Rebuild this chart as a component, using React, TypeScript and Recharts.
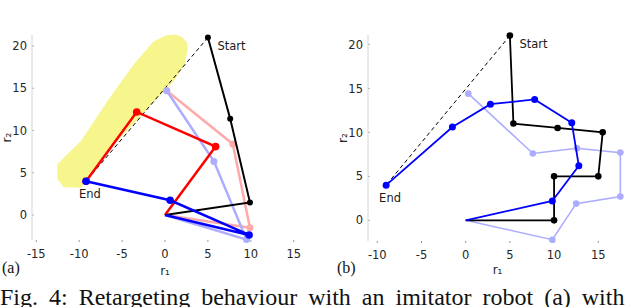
import React from "react";
import { ScatterChart, Scatter, XAxis, YAxis } from "recharts";

type P = { r1: number; r2: number };

// panel (a)
const xTicksA = [-15, -10, -5, 0, 5, 10, 15];
const yTicks = [0, 5, 10, 15, 20];
const blackA: P[] = [{ r1: 0, r2: 0 }, { r1: 9.9, r2: 1.5 }, { r1: 7.6, r2: 11.4 }, { r1: 5, r2: 21 }];
const pinkA: P[] = [{ r1: 0, r2: 0 }, { r1: 9.9, r2: -1.5 }, { r1: 7.9, r2: 8.4 }, { r1: 0.2, r2: 14.7 }];
const lightBlueA: P[] = [{ r1: 0, r2: 0 }, { r1: 9.5, r2: -2.9 }, { r1: 5.7, r2: 6.35 }, { r1: 0.2, r2: 14.7 }];
const redA: P[] = [{ r1: 0, r2: 0 }, { r1: 5.9, r2: 8.1 }, { r1: -3.3, r2: 12.2 }, { r1: -9.2, r2: 4 }];
const blueA: P[] = [{ r1: 0, r2: 0 }, { r1: 9.8, r2: -2.35 }, { r1: 0.6, r2: 1.75 }, { r1: -9.2, r2: 4 }];
const dashA: P[] = [{ r1: 5, r2: 21 }, { r1: -9.2, r2: 4 }];
const regionA: P[] = [
  { r1: 0.2, r2: 21.2 }, { r1: 1.2, r2: 21.3 }, { r1: 2.0, r2: 21.0 }, { r1: 2.5, r2: 20.4 },
  { r1: 2.6, r2: 19.6 }, { r1: 2.2, r2: 17.8 }, { r1: 1.0, r2: 15.9 }, { r1: -3.0, r2: 11.6 },
  { r1: -6.3, r2: 8.0 }, { r1: -9.0, r2: 4.3 }, { r1: -9.8, r2: 3.3 }, { r1: -11.8, r2: 3.35 },
  { r1: -12.5, r2: 4.3 }, { r1: -12.5, r2: 6.0 }, { r1: -9.7, r2: 8.8 }, { r1: -6.7, r2: 13.4 },
  { r1: -3.6, r2: 17.8 }, { r1: -1.3, r2: 20.5 },
];
const labelsA = [{ r1: 5, r2: 21, text: "Start" }, { r1: -9.2, r2: 4, text: "End" }];

// panel (b)
const xTicksB = [-10, -5, 0, 5, 10, 15];
const blackB: P[] = [
  { r1: 0, r2: 0 }, { r1: 10, r2: 0 }, { r1: 10, r2: 5 }, { r1: 15, r2: 5 },
  { r1: 15.5, r2: 10 }, { r1: 10.4, r2: 10.5 }, { r1: 5.4, r2: 11 }, { r1: 5, r2: 21 },
];
const blueB: P[] = [
  { r1: 0, r2: 0 }, { r1: 9.8, r2: 2.2 }, { r1: 12.8, r2: 6.2 }, { r1: 12, r2: 11.1 },
  { r1: 7.8, r2: 13.75 }, { r1: 2.8, r2: 13.2 }, { r1: -1.5, r2: 10.6 }, { r1: -9, r2: 4 },
];
const lightBlueB: P[] = [
  { r1: 0, r2: 0 }, { r1: 9.8, r2: -2.2 }, { r1: 12.5, r2: 1.9 }, { r1: 17.5, r2: 2.7 },
  { r1: 17.5, r2: 7.7 }, { r1: 12.6, r2: 8.2 }, { r1: 7.6, r2: 7.6 }, { r1: 0.3, r2: 14.4 },
];
const dashB: P[] = [{ r1: 5, r2: 21 }, { r1: -9, r2: 4 }];
const labelsB = [{ r1: 5, r2: 21, text: "Start" }, { r1: -9, r2: 4, text: "End" }];

const FONT = "'DejaVu Sans', Verdana, sans-serif";
const SERIF = "'Liberation Serif', 'Times New Roman', serif";
const TICK = "#262626";

const dot = (color: string, r: number) => (p: any) =>
  p.payload.r1 === 0 && p.payload.r2 === 0 ? <g /> : <circle cx={p.cx} cy={p.cy} r={r} fill={color} />;

const none = () => <g />;

const label = (p: any) => {
  const start = p.payload.text === "Start";
  return (
    <text x={p.cx + (start ? 9.5 : -7)} y={p.cy + (start ? 12.5 : 17)} fontSize={11.5}
      fontFamily={FONT} fill="#1a1a1a">{p.payload.text}</text>
  );
};

const YTick = (p: any) => (
  <g>
    <line x1={p.x + 5} x2={p.x + 7} y1={p.y} y2={p.y} stroke="#b5b5b5" />
    <text x={p.x} y={p.y} dy="0.36em" textAnchor="end" fontSize={11.5} fontFamily={FONT} fill={TICK}>
      {p.payload.value}
    </text>
  </g>
);

function axes(xDomain: number[], yDomain: number[], xTicks: number[], xh: number) {
  return [
    <XAxis key="x" type="number" dataKey="r1" domain={xDomain} ticks={xTicks} interval={0}
      height={xh} axisLine={false} tickSize={2} tickMargin={8}
      tickLine={{ stroke: "#9a9a9a" }} tick={{ fill: TICK, fontSize: 11.5, fontFamily: FONT }}
      label={{ value: "r₁", position: "insideBottom", offset: 0, fill: TICK, fontSize: 12, fontFamily: FONT }} />,
    <YAxis key="y" type="number" dataKey="r2" domain={yDomain} ticks={yTicks} interval={0}
      width={30} axisLine={{ stroke: "#d4d4d4" }} tickLine={false}
      tickSize={0} tickMargin={5} tick={YTick}
      label={{ value: "r₂", angle: -90, position: "center", dx: -10, fill: TICK, fontSize: 12, fontFamily: FONT }} />,
  ];
}

function chain(data: P[], color: string, w: number, r: number, k: string) {
  return (
    <Scatter key={k} data={data} fill={color} line={{ stroke: color, strokeWidth: w }}
      lineType="joint" shape={dot(color, r)} isAnimationActive={false} />
  );
}

export default function App() {
  return (
    <div style={{ position: "absolute", left: 0, top: 0, width: 640, height: 307, background: "#fff", overflow: "hidden" }}>
      <div style={{ position: "absolute", left: 0, top: 0 }}>
        <ScatterChart width={320} height={290} margin={{ top: 35, right: 22, bottom: 15, left: 2 }}>
          {axes([-15.5, 15.5], [-2.95, 21.1], xTicksA, 35)}
          <Scatter data={regionA} fill="#f6f68c" shape={none} lineType="joint" lineJointType="linearClosed"
            line={{ fill: "#f6f68c", stroke: "#f6f68c", strokeWidth: 1 }} isAnimationActive={false} />
          <Scatter data={dashA} fill="#000" shape={none} lineType="joint"
            line={{ stroke: "#000", strokeWidth: 1, strokeDasharray: "4 3" }} isAnimationActive={false} />
          {chain(pinkA, "#ffaaaa", 2.5, 3.5, "pink")}
          {chain(lightBlueA, "#adadff", 2.5, 3.5, "lb")}
          {chain(blackA, "#000000", 2, 3, "black")}
          {chain(redA, "#ff0000", 2.5, 3.8, "red")}
          {chain(blueA, "#0000ff", 2.5, 3.8, "blue")}
          <Scatter data={labelsA} shape={label} isAnimationActive={false} />
        </ScatterChart>
      </div>
      <div style={{ position: "absolute", left: 320, top: 0 }}>
        <ScatterChart width={320} height={290} margin={{ top: 35, right: 13, bottom: 16, left: 18 }}>
          {axes([-11.05, 18.25], [-2.35, 21.07], xTicksB, 33)}
          {chain(lightBlueB, "#adadff", 1.6, 3.3, "lb")}
          <Scatter data={dashB} fill="#000" shape={none} lineType="joint"
            line={{ stroke: "#000", strokeWidth: 1, strokeDasharray: "4 3" }} isAnimationActive={false} />
          {chain(blackB, "#000000", 1.8, 3.3, "black")}
          {chain(blueB, "#0000ff", 1.8, 3.5, "blue")}
          <Scatter data={labelsB} shape={label} isAnimationActive={false} />
        </ScatterChart>
      </div>
      <svg width={640} height={307} style={{ position: "absolute", left: 0, top: 0, pointerEvents: "none" }}>
        <text x={2} y={273} fontSize={16} fontFamily={SERIF} fill="#111">(a)</text>
        <text x={337} y={273} fontSize={16} fontFamily={SERIF} fill="#111">(b)</text>
        <text x={0} y={305} fontSize={24} wordSpacing={5} fontFamily={SERIF} fill="#111">
          Fig. 4: Retargeting behaviour with an imitator robot (a) with
        </text>
      </svg>
    </div>
  );
}
